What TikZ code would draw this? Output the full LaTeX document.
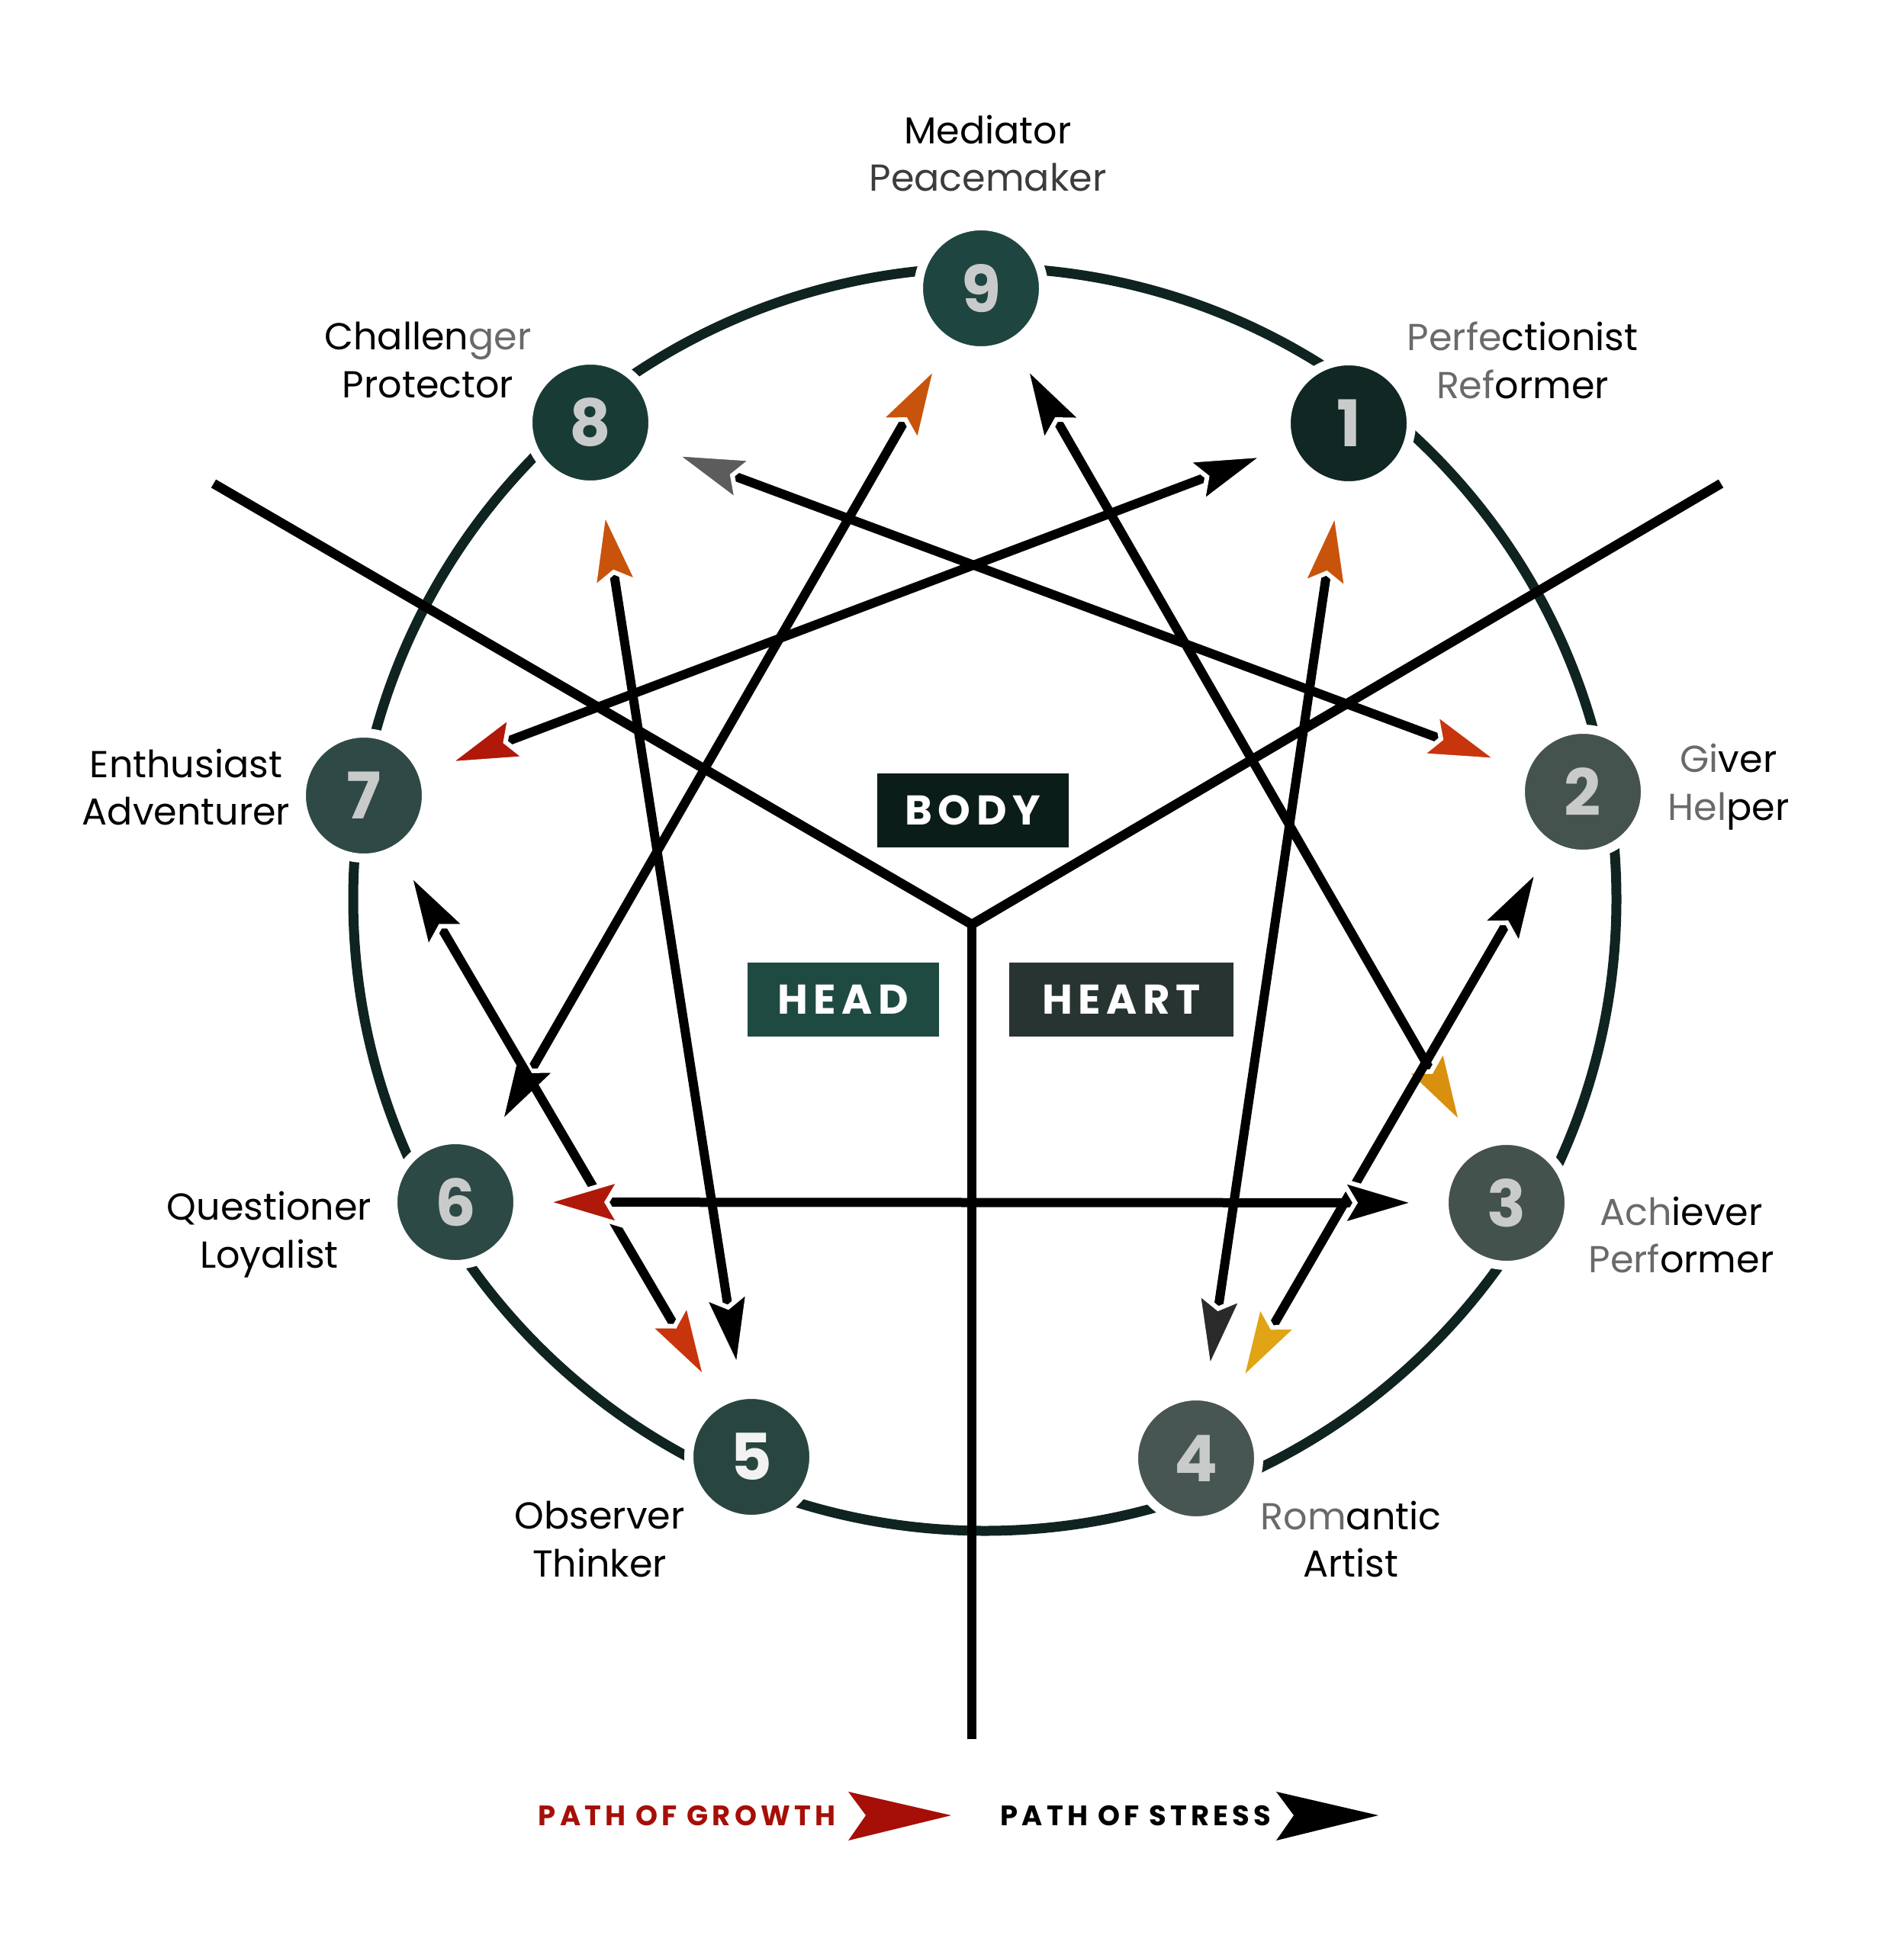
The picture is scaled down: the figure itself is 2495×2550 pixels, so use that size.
\documentclass[tikz,border=0pt]{standalone}
\usepackage{fontspec}
\setmainfont{Poppins}
\newfontfamily\spacedfont[LetterSpace=14]{Poppins}
\usepackage{tikz}
\usetikzlibrary{arrows.meta}
\usepackage{xcolor}
% colours
\definecolor{ringcol}{HTML}{0F2420}
\definecolor{numtxt}{HTML}{C9CBCB}
\definecolor{labgray}{HTML}{6A6A6A}
\definecolor{labdark}{HTML}{3C3C3C}
\definecolor{growred}{HTML}{A50F08}
\definecolor{disc9}{HTML}{1F4540}
\definecolor{disc1}{HTML}{102723}
\definecolor{disc2}{HTML}{45534F}
\definecolor{disc3}{HTML}{44524E}
\definecolor{disc4}{HTML}{485653}
\definecolor{disc5}{HTML}{28463F}
\definecolor{disc6}{HTML}{2D4945}
\definecolor{disc7}{HTML}{2F4A46}
\definecolor{disc8}{HTML}{183C35}
\definecolor{bodycol}{HTML}{0B1D19}
\definecolor{headcol}{HTML}{1F4A42}
\definecolor{heartcol}{HTML}{283432}
\definecolor{gred}{HTML}{B0180A}
\definecolor{gredor}{HTML}{C8340C}
\definecolor{gorange}{HTML}{C8540C}
\definecolor{ggold}{HTML}{D8900E}
\definecolor{gyellow}{HTML}{E0A414}
\definecolor{stgray}{HTML}{5C5C5C}
\definecolor{stdark}{HTML}{2A2A2A}
\newcommand{\fadetxt}[1]{{\color{labgray}#1}}
\tikzset{
  % the nine numbered discs
  typedisc/.style={circle, minimum size=1.64cm, inner sep=0pt, draw=white,
    line width=1.2mm, outer sep=2.5mm, text=numtxt,
    font=\fontsize{24}{24}\selectfont\bfseries},
  % two-line type names
  typename/.style={align=center, font=\fontsize{14}{17.9}\selectfont},
  % centre boxes
  centrebox/.style={minimum height=0.97cm, inner sep=0pt, text=white,
    font=\spacedfont\fontsize{15.5}{15.5}\selectfont\bfseries},
  legendtxt/.style={inner sep=0pt, font=\spacedfont\fontsize{10.5}{10.5}\selectfont\bfseries},
  conn/.style={line width=1.2mm, black},
  yline/.style={line width=1.25mm, black},
  % arrow heads, white rim
  gtip/.tip={Stealth[length=11.5mm, width=6.8mm, inset=2mm, color=white, line width=0.6mm]},
  stip/.tip={Stealth[length=11.5mm, width=6.8mm, inset=2mm, color=white, line width=0.6mm]},
}

\begin{document}
\begin{tikzpicture}[x=0.1mm, y=-0.1mm]
    \useasboundingbox (0,0) rectangle (2495,2550);
    % outer ring
    \draw[ringcol, line width=1.3mm] (1291,1179) circle[radius=8.28cm];
    % body / head / heart lines
    \coordinate (yc) at (1274,1212);
    \coordinate (yl) at (280,634);
    \coordinate (yr) at (2256,634);
    \coordinate (yb) at (1274,2280);
    \draw[yline] (yl) -- (yc) -- (yr);
    \draw[yline] (yc) -- (yb);

    \begin{scope}
    \node[typedisc, fill=disc9] (n9) at (1286,378) {9};
    \node[typedisc, fill=disc1] (n1) at (1768,555) {1};
    \node[typedisc, fill=disc2] (n2) at (2075,1038) {2};
    \node[typedisc, fill=disc3] (n3) at (1975,1577) {3};
    \node[typedisc, fill=disc4] (n4) at (1568,1912) {4};
    \node[typedisc, fill=disc5, text=white!90!gray] (n5) at (985,1910) {5};
    \node[typedisc, fill=disc6] (n6) at (597,1576) {6};
    \node[typedisc, fill=disc7] (n7) at (477,1043) {7};
    \node[typedisc, fill=disc8] (n8) at (774,554) {8};
    \end{scope}

    \node[typename] (t9) at (1295,201) {Mediator\\{\color{labdark}Peacemaker}};
    \node[typename] (t1) at (1996,472) {\fadetxt{Perfe}ctionist\\\fadetxt{Ref}ormer};
    \node[typename] (t2) at (2266,1032) {\fadetxt{Gi}ver\\\fadetxt{Hel}per};
    \node[typename] (t3) at (2204,1619) {\fadetxt{Ach}iever\\\fadetxt{Perf}ormer};
    \node[typename] (t4) at (1771,2018) {\fadetxt{Rom}antic\\Artist};
    \node[typename] (t5) at (786,2018) {Observer\\Thinker};
    \node[typename] (t6) at (353,1619) {Questioner\\Loyalist};
    \node[typename] (t7) at (244,1032) {Enthusiast\\Adventurer};
    \node[typename] (t8) at (561,472) {Challen\fadetxt{ger}\\Protector};

    \node[centrebox, fill=bodycol, minimum width=2.51cm] (body) at (1275,1062) {BODY};
    \node[centrebox, fill=headcol, minimum width=2.51cm] (head) at (1105,1310) {HEAD};
    \node[centrebox, fill=heartcol, minimum width=2.94cm] (heart) at (1470,1310) {HEART};

    % growth and stress lines
    \begin{scope}
    \draw[conn, {stip[fill=stgray]}-{gtip[fill=gredor]}] (n8) -- (n2);
    \draw[conn, {gtip[fill=gred]}-{stip[fill=black]}] (n7) -- (n1);
    \draw[conn, {stip[fill=black]}-{gtip[fill=gorange]}] (n6) -- (n9);
    \draw[conn, {stip[fill=black]}-{gtip[fill=ggold]}] (n9) -- (n3);
    \draw[conn, {stip[fill=black]}-{gtip[fill=gorange]}] (n5) -- (n8);
    \draw[conn, {stip[fill=stdark]}-{gtip[fill=gorange]}] (n4) -- (n1);
    \draw[conn, {gtip[fill=gyellow]}-{stip[fill=black]}] (n4) -- (n2);
    \draw[conn, {gtip[fill=gredor]}-{stip[fill=black]}] (n5) -- (n7);
    \draw[conn, {gtip[fill=gred]}-{stip[fill=black]}] (n6) -- (n3);
    \end{scope}

    % legend
    \node[legendtxt, text=growred, anchor=east] (growth) at (1096,2380) {PATH OF GROWTH};
    \fill[growred] (1112,2349) -- (1247,2380) -- (1112,2413) -- (1135,2380) -- cycle;
    \node[legendtxt, text=black, anchor=east] (stress) at (1667,2380) {PATH OF STRESS};
    \fill[black] (1673,2349) -- (1807,2380) -- (1673,2413) -- (1696,2380) -- cycle;
\end{tikzpicture}
\end{document}
